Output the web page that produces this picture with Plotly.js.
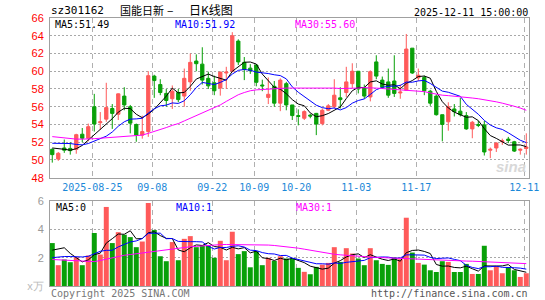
<!DOCTYPE html>
<html><head><meta charset="utf-8">
<script src="https://cdn.plot.ly/plotly-3.0.1.min.js"></script>
<style>html,body{margin:0;padding:0;background:#fff;}#chart{width:545px;height:300px;}</style>
</head><body><div id="chart"></div>
<script>
const dates = ['2025-08-14','2025-08-15','2025-08-18','2025-08-19','2025-08-20','2025-08-21','2025-08-22','2025-08-25','2025-08-26','2025-08-27',
'2025-08-28','2025-08-29','2025-09-01','2025-09-02','2025-09-03','2025-09-04','2025-09-05','2025-09-08','2025-09-09','2025-09-10',
'2025-09-11','2025-09-12','2025-09-15','2025-09-16','2025-09-17','2025-09-18','2025-09-19','2025-09-22','2025-09-23','2025-09-24',
'2025-09-25','2025-09-26','2025-09-29','2025-09-30','2025-10-09','2025-10-10','2025-10-13','2025-10-14','2025-10-15','2025-10-16',
'2025-10-17','2025-10-20','2025-10-21','2025-10-22','2025-10-23','2025-10-24','2025-10-27','2025-10-28','2025-10-29','2025-10-30',
'2025-10-31','2025-11-03','2025-11-04','2025-11-05','2025-11-06','2025-11-07','2025-11-10','2025-11-11','2025-11-12','2025-11-13',
'2025-11-14','2025-11-17','2025-11-18','2025-11-19','2025-11-20','2025-11-21','2025-11-24','2025-11-25','2025-11-26','2025-11-27',
'2025-11-28','2025-12-01','2025-12-02','2025-12-03','2025-12-04','2025-12-05','2025-12-08','2025-12-09','2025-12-10','2025-12-11'];

const open = [51.2,50.1,51.35,51.3,51.2,52.9,52.45,56.0,54.2,54.6, 55.8,55.15,57.2,56.0,54.0,52.8,53.2,59.45,58.5,57.5,
56.9,57.6,57.2,58.8,61.15,60.8,59.2,58.7,58.1,59.8, 60.0,63.4,61.0,60.35,60.7,58.45,57.05,58.3,56.4,58.6,
56.2,55.0,54.7,55.05,55.25,54.1,55.6,56.0,57.0,57.6, 58.6,60.0,58.1,57.1,61.05,59.0,58.8,58.9,57.55,57.85,
62.6,59.25,59.3,57.75,57.2,55.1,54.3,55.75,55.5,55.0, 53.5,54.0,53.95,51.1,51.35,52.05,52.35,52.05,51.1,51.3];
const high = [51.3,50.9,52.3,52.0,52.95,53.6,54.1,57.45,55.4,58.7, 56.3,57.5,58.2,56.2,54.1,55.0,60.0,59.6,59.1,58.0,
58.4,58.0,60.3,62.0,61.9,62.7,59.95,59.5,59.95,60.5, 64.4,63.6,61.6,60.8,60.75,59.05,59.3,58.9,59.2,58.8,
56.2,55.7,55.6,55.2,55.3,55.8,56.3,59.1,58.2,60.5, 60.9,60.0,58.5,60.1,61.8,59.4,60.3,61.8,58.5,64.2,
62.6,60.3,59.5,57.9,57.4,55.1,56.5,56.3,57.0,55.4, 54.4,54.4,54.4,51.4,52.0,52.4,52.6,52.15,51.3,53.0];
const low = [49.7,49.9,50.8,50.6,50.7,52.0,52.1,53.2,53.4,54.3, 53.5,54.5,55.6,53.0,52.05,52.4,52.6,57.0,57.3,56.0,
55.75,56.5,56.0,57.8,60.0,58.5,58.0,57.3,57.25,58.0, 59.9,60.7,59.0,59.7,58.3,57.75,56.3,56.0,55.5,55.6,
54.5,53.9,54.5,54.7,52.8,53.9,55.5,55.8,55.8,57.1, 58.1,57.5,56.9,56.6,59.1,58.0,57.0,57.1,56.9,57.8,
59.7,58.9,57.3,56.1,55.0,52.1,53.3,54.9,54.9,53.4, 52.45,53.7,50.5,50.2,50.9,51.7,51.9,50.9,50.6,50.6];
const close = [50.6,50.75,51.1,51.05,52.85,52.45,53.75,54.05,54.3,55.9, 55.25,57.45,56.2,54.15,52.8,53.2,59.5,58.95,57.6,56.7,
57.75,56.8,59.2,61.0,60.85,59.0,58.35,57.8,59.9,59.9, 64.0,61.05,60.2,60.05,58.75,58.35,57.4,56.4,59.0,56.2,
55.0,54.9,55.45,54.95,54.05,55.6,56.1,57.3,56.8,58.8, 60.0,58.0,57.2,59.95,59.45,58.2,57.3,57.5,57.65,62.5,
59.8,59.55,57.8,56.4,55.1,54.0,56.0,55.45,55.1,53.5, 54.25,53.9,50.9,51.2,51.9,52.15,52.2,51.0,51.2,51.45];

const ma5 = [51.35,51.3,51.2,51.1,51.27,51.64,52.24,52.83,53.48,54.1, 54.65,55.39,55.82,55.79,55.15,54.76,55.17,55.72,56.41,57.19,
58.1,57.56,57.61,58.29,59.12,59.37,59.68,59.4,59.18,58.99, 59.99,60.53,61.01,61.04,60.81,59.68,58.95,58.19,57.98,57.47,
56.8,56.3,56.11,55.3,54.87,54.99,55.23,55.6,55.97,56.92, 57.8,58.18,58.16,58.79,58.92,58.56,58.42,58.48,58.02,58.63,
58.95,59.4,59.46,59.21,57.73,56.57,55.86,55.39,55.13,54.81, 54.86,54.44,53.53,52.75,52.43,52.01,51.67,51.69,51.69,51.5];
const ma10 = [51.88,51.88,51.88,51.85,51.75,51.7,51.85,52.1,52.4,52.68, 53.15,53.8,54.3,54.6,54.63,54.7,55.28,55.77,56.1,56.18,
56.43,56.37,56.67,57.35,58.16,58.74,58.62,58.5,58.74,59.06, 59.68,60.1,60.2,60.11,59.9,59.84,59.74,59.6,59.51,59.14,
58.24,57.63,57.15,56.64,56.17,55.9,55.77,55.86,55.64,55.9, 56.4,56.7,56.88,57.38,57.92,58.18,58.3,58.32,58.4,58.78,
58.76,58.91,58.97,58.62,58.18,57.76,57.63,57.43,57.17,56.27, 55.72,55.15,54.46,53.94,53.62,53.44,53.06,52.61,52.22,51.95];
const ma30 = [52.63,52.55,52.45,52.38,52.35,52.35,52.35,52.4,52.45,52.5, 52.55,52.6,52.65,52.7,52.75,52.8,53.0,53.2,53.4,53.65,
53.9,54.1,54.4,54.7,54.95,55.25,55.55,55.85,56.2,56.6, 57.0,57.35,57.6,57.8,57.9,57.95,58.0,58.05,58.1,58.1,
58.1,58.1,58.1,58.1,58.1,58.15,58.15,58.1,58.05,58.05, 58.1,58.1,58.15,58.15,58.1,58.05,58.0,57.95,57.95,57.9,
57.85,57.8,57.7,57.55,57.4,57.3,57.25,57.2,57.13,57.05, 56.98,56.9,56.8,56.7,56.55,56.4,56.25,56.05,55.85,55.6];

const volume = [3.03,1.47,1.87,1.68,2.03,1.47,2.15,3.74,2.22,5.58, 3.03,3.8,3.62,3.45,2.74,3.14,5.86,3.95,2.1,1.75,
3.1,1.82,3.33,3.52,2.74,2.88,2.84,1.99,3.19,1.82, 3.83,2.25,2.46,1.32,2.46,1.47,1.99,1.77,2.1,1.94,
1.94,1.28,1.0,0.83,1.35,1.51,1.63,2.74,1.7,2.67, 2.29,1.94,1.47,2.67,1.82,1.56,1.49,2.01,1.89,4.82,
2.36,1.63,1.51,1.11,0.99,1.75,1.7,0.99,0.99,1.56, 0.85,0.85,2.84,1.11,1.4,0.9,1.32,1.11,0.64,0.9];
const volMa5 = [2.53,2.62,2.7,2.3,2.02,1.70,1.84,2.21,2.32,3.03, 3.34,3.67,3.65,3.90,3.33,3.35,3.76,3.83,3.56,3.36,
3.35,2.54,2.42,2.70,2.90,2.86,3.06,2.79,2.73,2.54, 2.73,2.62,2.71,2.34,2.46,1.99,1.94,1.80,1.96,1.85,
1.95,1.81,1.65,1.40,1.28,1.19,1.26,1.61,1.79,2.05, 2.21,2.27,2.01,2.21,2.04,1.89,1.80,1.91,1.75,2.35,
2.51,2.54,2.44,2.29,1.52,1.40,1.41,1.31,1.28,1.40, 1.22,1.05,1.42,1.44,1.41,1.42,1.51,1.17,1.07,0.97];
const volMa10 = [2.0,2.05,2.08,2.08,2.06,2.05,2.1,2.3,2.45,2.52, 2.52,2.76,2.93,3.11,3.18,3.35,3.72,3.74,3.73,3.34,
3.35,3.15,3.12,3.13,3.13,3.11,2.80,2.61,2.72,2.72, 2.80,2.84,2.75,2.53,2.50,2.36,2.28,2.26,2.15,2.16,
1.97,1.87,1.73,1.68,1.57,1.57,1.54,1.63,1.59,1.67, 1.70,1.77,1.81,2.00,2.04,2.05,2.04,1.96,1.98,2.20,
2.20,2.17,2.18,2.02,1.94,1.96,1.98,1.88,1.79,1.46, 1.31,1.23,1.36,1.36,1.40,1.32,1.28,1.29,1.26,1.19];
const volMa30 = [1.87,1.85,1.8,1.77,1.74,1.72,1.71,1.72,1.8,1.9, 2.0,2.1,2.17,2.22,2.28,2.33,2.38,2.43,2.48,2.53,
2.6,2.66,2.72,2.77,2.8,2.84,2.87,2.9,2.92,2.93, 2.93,2.93,2.93,2.93,2.92,2.9,2.89,2.86,2.82,2.78,
2.73,2.67,2.6,2.52,2.45,2.38,2.3,2.24,2.2,2.16, 2.13,2.1,2.07,2.04,2.02,2.0,1.98,1.96,1.94,1.92,
1.9,1.88,1.86,1.84,1.82,1.8,1.79,1.78,1.77,1.76, 1.75,1.73,1.72,1.7,1.68,1.66,1.64,1.62,1.6,1.58];

const tickDates = ['2025-08-25','2025-09-08','2025-09-22','2025-10-09','2025-10-20','2025-11-03','2025-11-17','2025-12-11'];
const tickLabels = ['2025-08-25','09-08','09-22','10-09','10-20','11-03','11-17','12-11'];
const priceTicks = [48,50,52,54,56,58,60,62,64,66];
const volTicks = [0,2,4,6];
const volTickLabels = ['<span style="color:#bbb">x万</span>','2','4','6'];

const RED = '#ff5a5a', GREEN = '#08a008';
const idx = dates.map((d, i) => i);
const tickPos = tickDates.map(d => dates.indexOf(d) - 0.33);
const volColors = close.map((c, i) => c >= open[i] ? RED : GREEN);
const xRange = [-0.38, 79.45];

const mono = 'DejaVu Sans Mono, monospace';
const traces = [
  {type:'candlestick', x: idx, open, high, low, close, xaxis:'x', yaxis:'y',
   increasing:{line:{color:RED, width:1}, fillcolor:RED},
   decreasing:{line:{color:GREEN, width:1}, fillcolor:GREEN},
   whiskerwidth:0, hoverinfo:'skip'},
  {type:'scatter', mode:'lines', x: idx, y: ma5, line:{color:'#000', width:1}, xaxis:'x', yaxis:'y'},
  {type:'scatter', mode:'lines', x: idx, y: ma10, line:{color:'#0000ff', width:1}, xaxis:'x', yaxis:'y'},
  {type:'scatter', mode:'lines', x: idx, y: ma30, line:{color:'#ff00ff', width:1}, xaxis:'x', yaxis:'y'},
  {type:'bar', x: idx, y: volume, marker:{color: volColors, line:{width:0}}, xaxis:'x2', yaxis:'y2'},
  {type:'scatter', mode:'lines', x: idx, y: volMa5, line:{color:'#000', width:1}, xaxis:'x2', yaxis:'y2'},
  {type:'scatter', mode:'lines', x: idx, y: volMa10, line:{color:'#0000ff', width:1}, xaxis:'x2', yaxis:'y2'},
  {type:'scatter', mode:'lines', x: idx, y: volMa30, line:{color:'#ff00ff', width:1}, xaxis:'x2', yaxis:'y2'}
];

// pixel -> paper helpers (plot area: x 50..529, y 18..286)
const PL = 50, PR = 529, PT = 18, PB = 286;
const px = x => (x - PL) / (PR - PL);
const py = y => (PB - y) / (PB - PT);
function ann(text, x, y, anchor, color, size, family, extra) {
  return Object.assign({text, x: px(x), y: py(y), xref:'paper', yref:'paper', xanchor: anchor, yanchor:'middle',
    showarrow:false, font:{family: family || mono, size: size || 10, color: color || '#000'}}, extra || {});
}
const cjk = 'Noto Sans CJK SC, sans-serif';
const annotations = [
  ann('sz301162', 49, 11, 'left', '#000', 11),
  ann('国能日新', 118, 10, 'left', '#000', 11, cjk),
  ann('–', 170, 10, 'center', '#000', 12, cjk),
  ann('日K线图', 187, 10, 'left', '#000', 12, cjk),
  ann('2025-12-11 15:00:00', 530, 12, 'right', '#000', 10),
  ann('MA5:51.49', 53, 24.5, 'left', '#000', 10),
  ann('MA10:51.92', 173, 24.5, 'left', '#0000ff', 10),
  ann('MA30:55.60', 293, 24.5, 'left', '#ff00ff', 10),
  ann('MA5:0', 54, 207, 'left', '#000', 10),
  ann('MA10:1', 174, 207, 'left', '#0000ff', 10),
  ann('MA30:1', 294, 207, 'left', '#ff00ff', 10),
  ann('Copyright 2025 SINA.COM', 49, 293, 'left', '#777', 10),
  ann('http://finance.sina.com.cn', 530, 293, 'right', '#555', 10),
  ann('<b><i>sina</i></b>', 511, 166, 'center', '#d8d8d8', 15, 'Liberation Sans, sans-serif')
];

const gridCommon = {zeroline:false, showline:true, mirror:true, linecolor:'#a0a0a0', linewidth:1, ticks:''};
const layout = {
  width:545, height:300,
  margin:{l:PL, r:545-PR, t:PT, b:300-PB, pad:0},
  paper_bgcolor:'#fff', plot_bgcolor:'#fff',
  showlegend:false, hovermode:false,
  boxgap:0.22, bargap:0.17,
  xaxis:Object.assign({}, gridCommon, {domain:[0,1], anchor:'y', range:xRange, tickmode:'array', tickvals:tickPos, ticktext:tickLabels,
    tickfont:{family:mono, size:10, color:'#1a88d8'}, showgrid:true, gridcolor:'#b0b0b0', griddash:'5px,4px',
    rangeslider:{visible:false}, fixedrange:true}),
  yaxis:Object.assign({}, gridCommon, {domain:[(PB-177.7)/(PB-PT),1], anchor:'x', range:[48,66], tickmode:'array', tickvals:priceTicks,
    tickfont:{family:'Liberation Sans, sans-serif', size:11, color:'#ff0000'}, showgrid:true, gridcolor:'#a8a8a8', griddash:'2px,2px', ticklabelstandoff:3}),
  xaxis2:Object.assign({}, gridCommon, {domain:[0,1], anchor:'y2', range:xRange, tickmode:'array', tickvals:tickPos, showticklabels:false,
    showgrid:true, gridcolor:'#b0b0b0', griddash:'5px,4px'}),
  yaxis2:Object.assign({}, gridCommon, {domain:[0,(PB-201)/(PB-PT)], anchor:'x2', range:[0,6], tickmode:'array', tickvals:volTicks, ticktext:volTickLabels,
    tickfont:{family:'Liberation Sans, sans-serif', size:11, color:'#999'}, showgrid:true, gridcolor:'#a8a8a8', griddash:'2px,2px', ticklabelstandoff:3}),
  annotations
};
Plotly.newPlot('chart', traces, layout, {staticPlot:true, displayModeBar:false});
</script>
</body></html>
